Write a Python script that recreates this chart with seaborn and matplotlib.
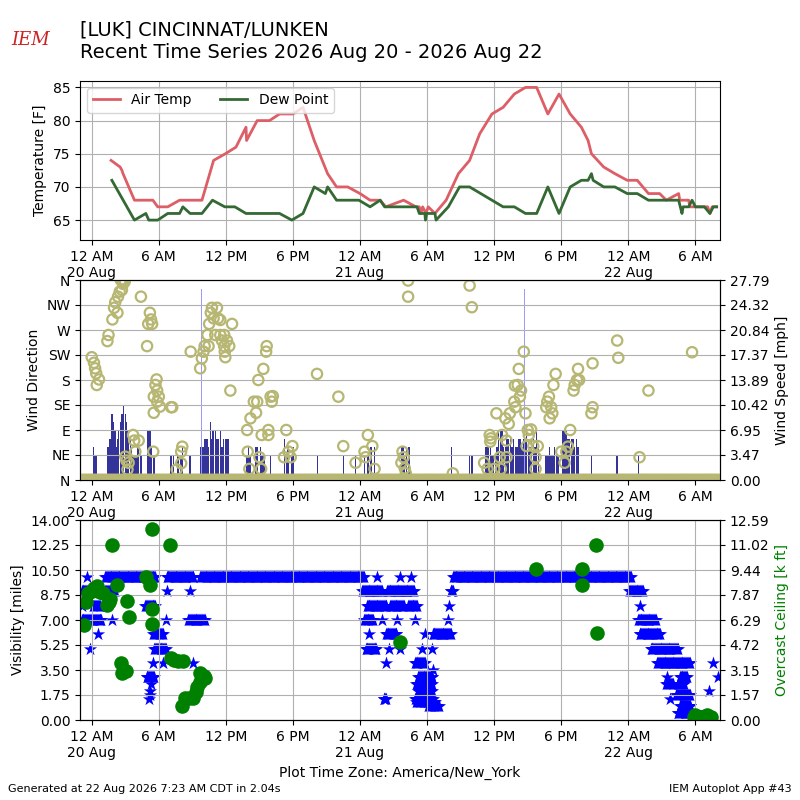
import numpy as np
import pandas as pd
import matplotlib
matplotlib.use("Agg")
import matplotlib.pyplot as plt
import seaborn as sns

# hours since 2026-08-20 00:00 America/New_York
tick_hours = [0, 6, 12, 18, 24, 30, 36, 42, 48, 54]
tick_labels = ["12 AM\n20 Aug", "6 AM", "12 PM", "6 PM", "12 AM\n21 Aug",
               "6 AM", "12 PM", "6 PM", "12 AM\n22 Aug", "6 AM"]

# ---- temperature / dew point
tmp_h = [1.73, 2.54, 2.7, 2.8, 3.82, 5.47, 5.9, 6.8, 7.86, 9.86, 10.9, 11.95, 12.9,
         13.8, 13.85, 14.8, 15.9, 16.8, 18.0, 18.9, 19.9, 21.1, 21.9, 22.9, 24.0,
         24.9, 25.8, 26.3, 27.9, 29.0, 29.3, 29.45, 29.6, 29.9, 30.1, 30.7, 31.7,
         32.8, 33.8, 34.7, 35.8, 36.8, 37.8, 38.8, 39.8, 40.8, 41.8, 42.8, 43.8,
         44.4, 44.7, 45.8, 46.8, 47.9, 48.8, 49.8, 50.8, 51.4, 52.5, 52.6, 53.4,
         53.5, 55.1, 55.3, 55.5, 55.9]
tmp_f = [74, 73, 72.5, 72, 68, 68, 67, 67, 68, 68, 74, 75, 76,
         79, 77, 80, 80, 81, 81, 82, 77, 72, 70, 70, 69,
         68, 68, 67, 68, 67, 67, 66, 67, 66, 67, 66, 68,
         72, 74, 78, 81, 82, 84, 85, 85, 81, 84, 81, 79,
         77, 75, 73, 72, 71, 71, 69, 69, 68, 69, 68, 68,
         67, 67, 66, 67, 67]
dwp_h = [1.8, 3.82, 4.84, 5.1, 5.9, 6.8, 7.86, 8.15, 8.8, 9.86, 10.8, 11.9, 12.8,
         13.8, 16.8, 17.9, 18.9, 19.9, 20.9, 21.1, 21.9, 23.9, 24.9, 25.8, 26.2,
         29.1, 29.3, 29.8, 29.85, 29.95, 30.7, 30.8, 31.9, 32.9, 33.8, 36.8, 37.8,
         38.8, 39.8, 40.8, 41.8, 42.8, 43.8, 44.4, 44.7, 44.85, 45.8, 46.8, 47.9,
         48.8, 49.8, 52.5, 52.8, 52.9, 53.4, 53.7, 54.0, 54.8, 55.3, 55.6, 55.9]
dwp_f = [71, 65, 66, 65, 65, 66, 66, 67, 66, 66, 68, 67, 67,
         66, 66, 65, 66, 70, 69, 70, 68, 68, 67, 68, 67,
         67, 66, 66, 65, 66, 66, 65, 67, 70, 70, 67, 67,
         66, 66, 70, 66, 70, 71, 71, 72, 71, 70, 70, 69,
         69, 68, 68, 66, 67, 67, 68, 67, 67, 66, 67, 67]

# ---- wind direction (deg) and speed / gust (mph)
drct_h = [0.0, 0.2, 0.3, 0.4, 0.65, 0.45, 1.4, 1.5, 1.85, 2.0, 2.1, 2.3, 2.35, 2.5,
          2.7, 2.8, 2.95, 2.6, 2.75, 2.9, 4.4, 5.2, 5.3, 5.4, 5.05, 4.95, 5.8, 5.7,
          5.85, 5.55, 6.0, 5.85, 6.1, 5.55, 7.1, 7.2, 3.7, 3.8, 4.2, 3.9, 3.0, 3.3,
          3.2, 5.5, 3.1, 8.1, 8.0, 8.0, 7.6, 8.85, 9.7, 9.85, 10.0, 10.1, 10.45,
          10.35, 10.5, 10.65, 10.75, 11.2, 10.9, 11.3, 11.5, 11.05, 11.5, 11.85,
          11.65, 12.1, 11.85, 12.3, 11.95, 11.9, 12.55, 12.4, 13.9, 14.2, 14.7,
          14.5, 14.8, 13.95, 14.1, 15.0, 15.15, 15.2, 15.8, 15.8, 14.9, 15.35,
          15.6, 15.65, 16.0, 16.1, 16.2, 17.4, 17.2, 17.6, 17.8, 17.95, 20.15,
          22.06, 22.5, 23.6, 24.4, 24.5, 24.7, 25.1, 25.3, 27.8, 27.9, 27.7, 28.0,
          28.1, 28.3, 28.3, 32.3, 33.8, 34.0, 35.6, 35.65, 36.2, 36.7, 37.0, 37.3,
          37.4, 37.8, 37.9, 37.85, 38.1, 38.3, 38.2, 38.65, 38.8, 37.1, 35.1, 35.4,
          36.0, 36.5, 37.1, 36.6, 35.7, 38.4, 39.0, 39.1, 39.3, 38.9, 39.5, 39.9,
          39.7, 39.7, 40.75, 40.66, 40.9, 41.1, 41.2, 40.96, 41.3, 41.5, 42.8,
          42.0, 42.3, 42.45, 42.6, 43.1, 43.2, 43.4, 43.6, 43.5, 44.8, 44.7, 44.8,
          47.0, 47.1, 49.8, 49.0, 53.7]
drct_deg = [221, 211, 201, 192, 181, 171, 250, 261, 289, 310, 320, 301, 330, 339,
            342, 353, 357, 360, 360, 360, 330, 301, 289, 281, 281, 241, 181, 171,
            161, 150, 150, 141, 132, 121, 131, 131, 81, 71, 71, 51, 42, 31,
            19, 51, 35, 60, 51, 30, 19, 231, 201, 219, 231, 241, 241,
            261, 281, 301, 310, 310, 291, 291, 288, 261, 261, 261,
            251, 251, 241, 241, 221, 231, 281, 161, 90, 111, 121,
            141, 141, 51, 20, 41, 20, 81, 90, 81, 180, 200,
            231, 241, 150, 141, 151, 90, 41, 51, 41, 61, 191,
            150, 61, 31, 51, 41, 81, 61, 20, 51, 41, 31, 21,
            12, 359, 330, 12, 350, 311, 81, 69, 120, 81, 111, 101,
            120, 141, 131, 170, 171, 150, 200, 231, 120, 71, 31, 20,
            20, 41, 41, 20, 75, 161, 90, 81, 91, 61, 61, 61,
            41, 20, 141, 131, 150, 131, 120, 111, 171, 191, 90,
            51, 31, 51, 60, 161, 171, 180, 180, 200, 210, 120, 131,
            251, 220, 161, 41, 230]
calm_start = [-1.05]
calm_end = [56.2]

sknt_h = [0.15, 0.3, 0.45, 1.45, 1.65, 1.8, 1.95, 2.1, 2.2, 2.3, 2.4, 2.55, 2.7, 2.85,
          3.0, 3.1, 3.2, 3.3, 3.45, 3.55, 3.7, 3.85, 4.0, 4.15, 4.4, 5.05, 5.2, 5.35,
          5.55, 7.1, 7.3, 7.7, 8.0, 8.1, 8.8,
          9.71, 9.85, 10.0, 10.15, 10.3, 10.45, 10.6, 10.7, 10.8, 10.9, 11.05, 11.2,
          11.35, 11.5, 11.65, 11.8, 11.95, 12.1, 12.25,
          13.9, 14.0, 14.15, 14.65, 14.8, 15.1, 15.25, 15.4, 16.0, 17.25, 17.4, 17.55,
          17.9, 18.0, 20.2, 22.5, 23.6, 24.4, 24.7, 25.0, 25.3, 27.7, 27.85, 28.0,
          28.15, 28.4, 32.2, 33.8, 34.0,
          35.2, 35.35, 35.5, 35.65, 35.8, 35.95, 36.1, 36.25, 36.4, 36.55, 36.7, 36.85,
          37.0, 37.15, 37.3, 37.45, 37.6, 37.75, 37.9, 38.05, 38.2, 38.35, 38.5, 38.65,
          38.8, 38.9, 39.05, 39.2, 39.35, 39.5, 39.65, 39.8, 39.95, 40.65, 40.8, 40.95,
          41.1, 41.25, 41.4, 41.55, 41.7, 42.1, 42.2, 42.35, 42.45, 42.6, 42.75, 42.9,
          43.05, 43.2, 43.35, 43.5, 44.7, 47.0, 48.9]
sknt_mph = [4.6, 3.45, 3.45, 4.6, 5.75, 9.21, 8.06, 6.9, 4.6, 5.75, 6.9, 8.06, 9.21, 10.36,
            9.21, 8.06, 6.9, 5.75, 5.75, 4.6, 3.45, 3.45, 3.45, 4.6, 3.45, 6.9, 6.9, 4.6,
            3.45, 3.45, 3.45, 3.45, 3.45, 4.6, 3.45,
            4.6, 4.6, 4.6, 5.75, 5.75, 4.6, 8.06, 5.75, 6.9, 6.9, 6.9, 5.75,
            5.75, 6.9, 4.6, 5.75, 5.75, 5.75, 5.75,
            3.45, 4.6, 3.45, 4.6, 4.6, 4.6, 3.45, 3.45, 3.45, 5.75, 3.45, 4.6,
            3.45, 4.6, 3.45, 3.45, 3.45, 3.45, 3.45, 4.6, 4.6, 4.6, 4.6, 3.45,
            4.6, 4.6, 4.6, 3.45, 3.45,
            4.6, 4.6, 4.6, 4.6, 3.45, 3.45, 3.45, 4.6, 6.9, 6.9, 6.9, 4.6,
            4.6, 5.75, 5.75, 5.75, 4.6, 5.75, 4.6, 4.6, 5.75, 5.75, 4.6, 5.75,
            5.75, 6.9, 5.75, 4.6, 5.75, 5.75, 4.6, 6.9, 4.6, 3.45, 3.45, 4.6,
            3.45, 3.45, 4.6, 3.45, 3.45, 6.9, 6.9, 6.9, 6.9, 5.75, 5.75, 5.75,
            5.75, 4.6, 5.75, 4.6, 3.45, 3.45, 3.45]
gust_h = [9.8, 38.7]
gust_mph = [26.47, 26.47]

# ---- visibility (miles), runs of repeated 1-minute values
vis_start = [1.2, 6.7, 9.7, 32.3, -0.4, 25.5, 27.6, 28.6,
             -0.9, 1.2, 6.7, 8.8, 24.2, 26.4, 32.1, 48.1,
             -0.9, 0.15, 1.3, 4.8, 24.6, 26.7, 28.3, 32.0, 49.0,
             -0.9, 1.8, 6.65, 8.65, 24.35, 26.0, 27.35, 28.9, 31.85, 48.85,
             0.6, 5.5, 24.8, 26.3, 29.8, 30.5, 49.0,
             -0.15, 5.6, 24.5, 26.6, 27.6, 29.5, 30.4, 50.0,
             5.5, 6.4, 9.05, 26.3, 28.9, 50.6, 55.55,
             30.5,
             4.9, 29.2, 51.5, 52.6, 56.0,
             5.3, 29.0, 51.4, 52.4,
             5.2, 29.2, 55.25,
             5.2, 52.3,
             5.16, 26.1, 28.9, 51.7,
             29.0,
             30.1, 52.6,
             52.4,
             53.6]
vis_end = [5.7, 9.1, 24.35, 48.25, -0.4, 25.5, 27.6, 28.6,
           0.0, 2.1, 6.7, 8.8, 26.0, 28.8, 32.4, 49.3,
           -0.9, 0.75, 1.3, 5.7, 26.4, 27.9, 29.1, 32.0, 49.0,
           0.9, 1.8, 6.65, 10.1, 25.2, 26.0, 27.35, 28.9, 31.85, 50.5,
           0.6, 6.4, 24.8, 27.3, 29.8, 32.1, 50.9,
           -0.15, 6.7, 25.5, 26.6, 27.6, 29.5, 30.4, 52.4,
           5.5, 6.4, 9.05, 26.3, 29.8, 53.5, 55.55,
           30.5,
           5.6, 30.5, 51.5, 53.3, 56.0,
           5.3, 30.5, 52.0, 53.0,
           5.2, 30.4, 55.25,
           5.2, 53.5,
           5.16, 26.4, 30.5, 51.7,
           30.7,
           31.1, 53.6,
           53.6,
           55.25]
vis_miles = [10, 10, 10, 10, 10, 10, 10, 10,
             9, 9, 9, 9, 9, 9, 9, 9,
             8, 8, 8, 8, 8, 8, 8, 8, 8,
             7, 7, 7, 7, 7, 7, 7, 7, 7, 7,
             6, 6, 6, 6, 6, 6, 6,
             5, 5, 5, 5, 5, 5, 5, 5,
             4, 4, 4, 4, 4, 4, 4,
             3.5,
             3, 3, 3, 3, 3,
             2.5, 2.5, 2.5, 2.5,
             2, 2, 2,
             1.75, 1.75,
             1.5, 1.5, 1.5, 1.5,
             1.25,
             1, 1,
             0.5,
             0.25]

# ---- overcast ceiling (k ft)
ceil_h = [-0.7, -0.5, -0.3, 0.0, 0.2, 0.45, 0.75, 1.0, 1.35, 1.5, 1.6, 1.8, 2.3, 2.6,
          2.75, 3.07, 3.13, 3.3, 4.87, 5.2, 5.37, 5.37, 5.43, 7.0, 7.07, 7.4, 7.76,
          8.15, 8.06, 8.3, 8.66, 9.1, 9.34, 9.46, 9.64, 9.85, 9.7, 10.15, 10.0,
          27.6, 39.7, 43.9, 43.85, 45.1, 45.2, 53.9, 54.2, 54.5, 54.8, 55.1, 55.4,
          54.0, 55.0]
ceil_kft = [6.0, 7.45, 7.97, 8.1, 8.3, 8.45, 8.08, 8.0, 7.24, 7.45, 7.6, 11.0, 8.5, 3.57,
            2.94, 3.08, 7.49, 6.48, 9.0, 8.5, 6.99, 6.02, 12.0, 11.0, 3.92, 3.8, 3.71,
            3.71, 0.86, 1.36, 1.36, 1.36, 1.74, 2.1, 2.41, 2.62, 2.94, 2.62, 2.8,
            4.93, 9.48, 9.48, 8.5, 11.0, 5.48, 0.2, 0.2, 0.2, 0.2, 0.2, 0.2,
            0.3, 0.3]


def expand_runs(starts, ends, vals, step):
    hh, vv = [], []
    for s, e, v in zip(starts, ends, vals):
        pts = np.arange(s, e + 1e-6, step) if e > s else np.array([s])
        hh.extend(pts)
        vv.extend([v] * len(pts))
    return pd.DataFrame({"h": hh, "v": vv})


xmin, xmax = -1.05, 56.2
olive = "#b7b773"

fig = plt.figure(figsize=(8, 8), dpi=100)
ax1 = fig.add_axes([0.1, 0.7, 0.8, 0.199])
ax2 = fig.add_axes([0.1, 0.4, 0.8, 0.25])
ax3 = fig.add_axes([0.1, 0.1, 0.8, 0.25])

# Temperature
sns.lineplot(x=tmp_h, y=tmp_f, ax=ax1, color="#dd5e66", lw=2, label="Air Temp",
             estimator=None, sort=False)
sns.lineplot(x=dwp_h, y=dwp_f, ax=ax1, color="#346934", lw=2, label="Dew Point",
             estimator=None, sort=False)
ax1.set_ylim(62, 86)
ax1.set_yticks([65, 70, 75, 80, 85])
ax1.set_ylabel("Temperature [F]")
ax1.grid(True)
ax1.legend(loc="upper left", ncol=2, fontsize=10)

# Wind
ax2b = ax2.twinx()
ax2b.bar(sknt_h, sknt_mph, width=0.13, color="#333399", linewidth=0)
ax2b.bar(gust_h, gust_mph, width=0.08, color="#9b9bff", linewidth=0)
ax2b.set_ylim(0, 27.79)
ax2b.set_yticks(np.linspace(0, 27.79, 9))
ax2b.set_yticklabels([f"{v:.2f}" for v in np.linspace(0, 27.79, 9)])
ax2b.set_ylabel("Wind Speed [mph]")
ax2b.grid(True)
ax2.set_zorder(ax2b.get_zorder() + 1)
ax2.patch.set_visible(False)

calm = expand_runs(calm_start, calm_end, [0] * len(calm_start), 0.1)
sns.scatterplot(x=calm["h"], y=calm["v"], ax=ax2, marker="o", s=55,
                facecolor="none", edgecolor=olive, linewidth=1.6)
sns.scatterplot(x=drct_h, y=drct_deg, ax=ax2, marker="o", s=55,
                facecolor="none", edgecolor=olive, linewidth=1.6)
ax2.set_ylim(0, 360)
ax2.set_yticks(range(0, 361, 45))
ax2.set_yticklabels(["N", "NE", "E", "SE", "S", "SW", "W", "NW", "N"])
ax2.set_ylabel("Wind Direction")

# Visibility / ceiling
vis = expand_runs(vis_start, vis_end, vis_miles, 0.08)
sns.scatterplot(x=vis["h"], y=vis["v"], ax=ax3, marker="*", s=100, color="b",
                linewidth=0)
ax3.set_ylim(0, 14)
ax3.set_yticks(np.arange(0, 14.01, 1.75))
ax3.set_yticklabels([f"{v:.2f}" for v in np.arange(0, 14.01, 1.75)])
ax3.set_ylabel("Visibility [miles]")
ax3.grid(True)
ax3b = ax3.twinx()
sns.scatterplot(x=ceil_h, y=ceil_kft, ax=ax3b, marker="o", s=110, color="g",
                linewidth=0)
ax3b.set_ylim(0, 12.59)
ax3b.set_yticks(np.linspace(0, 12.59, 9))
ax3b.set_yticklabels([f"{v:.2f}" for v in np.linspace(0, 12.59, 9)])
ax3b.set_ylabel("Overcast Ceiling [k ft]", color="g")

for ax in (ax1, ax2, ax2b, ax3, ax3b):
    ax.set_xlim(xmin, xmax)
    ax.set_xlabel("")
for ax in (ax1, ax2, ax3):
    ax.set_xticks(tick_hours)
    ax.set_xticklabels(tick_labels)
ax3.set_xlabel("Plot Time Zone: America/New_York")

fig.text(0.1, 0.975, "[LUK] CINCINNAT/LUNKEN\nRecent Time Series 2026 Aug 20 - 2026 Aug 22",
         fontsize=14, va="top", ha="left", linespacing=1.3)
fig.text(0.038, 0.95, "IEM", color="#cc2222", fontsize=13, family="DejaVu Serif",
         style="italic", ha="center", va="center")
fig.text(0.01, 0.01, "Generated at 22 Aug 2026 7:23 AM CDT in 2.04s", fontsize=8)
fig.text(0.99, 0.01, "IEM Autoplot App #43", fontsize=8, ha="right")

fig.savefig("out.png", dpi=100)
